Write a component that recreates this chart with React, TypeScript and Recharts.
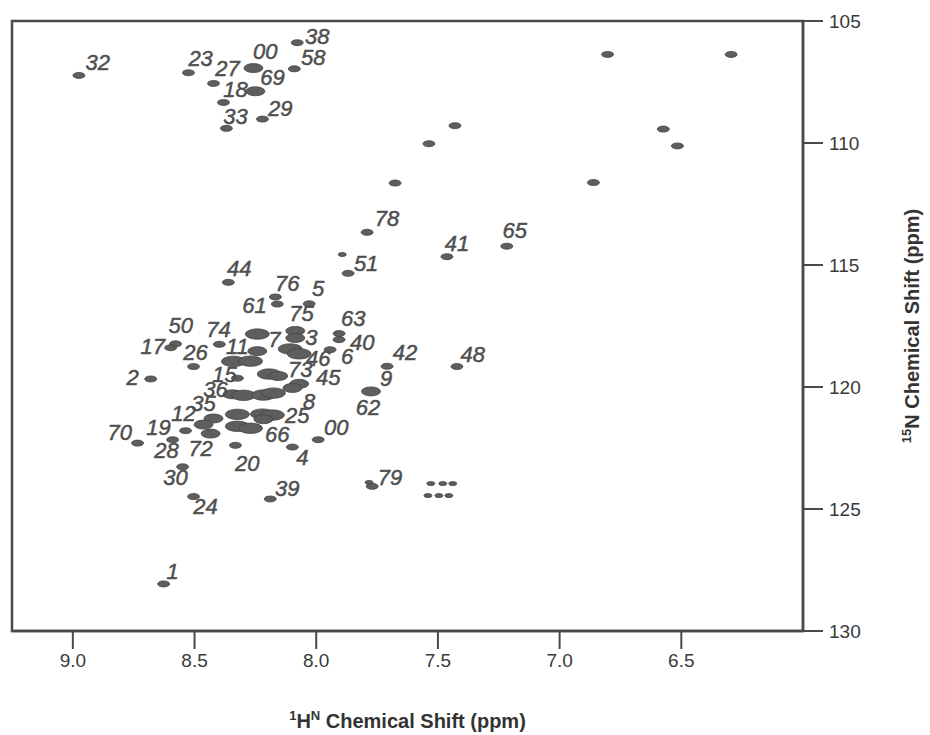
import { ScatterChart, Scatter, XAxis, YAxis, ReferenceArea } from 'recharts';

const xTicks = [9.0, 8.5, 8.0, 7.5, 7.0, 6.5];
const yTicks = [105, 110, 115, 120, 125, 130];

// cross peaks: 1H shift, 15N shift, rough intensity class (0 weak .. 3 strong)
const peakH = [
  8.975, 8.525, 8.422, 8.258, 8.078, 8.09, 8.381, 8.25, 8.369, 8.221,
  6.803, 6.295, 7.43, 7.537, 6.574, 6.516, 7.676, 6.861,
  7.791, 7.893, 7.869, 7.463, 7.217, 8.361, 8.168, 8.16, 8.029,
  7.906, 7.906, 7.943, 7.709, 7.422, 7.775, 7.992, 8.098,
  8.578, 8.598, 8.398, 8.504, 8.68, 8.242, 8.242, 8.086, 8.086, 8.107, 8.07,
  8.34, 8.27, 8.324, 8.193, 8.156, 8.07, 8.098, 8.344, 8.299, 8.217, 8.176,
  8.422, 8.324, 8.221, 8.18, 8.463, 8.434, 8.324, 8.27, 8.217,
  8.537, 8.734, 8.59, 8.332, 8.549, 8.504, 8.189, 7.77, 7.783,
  7.529, 7.48, 7.439, 7.541, 7.496, 7.455, 8.627,
];
const peakN = [
  107.23, 107.12, 107.56, 106.93, 105.89, 106.96, 108.34, 107.88, 109.4, 109.02,
  106.37, 106.37, 109.29, 110.03, 109.43, 110.12, 111.64, 111.62,
  113.66, 114.57, 115.34, 114.66, 114.23, 115.71, 116.31, 116.6, 116.59,
  117.81, 118.06, 118.47, 119.15, 119.16, 120.18, 122.16, 122.46,
  118.23, 118.39, 118.25, 119.16, 119.67, 117.83, 118.53, 117.7, 117.99, 118.44, 118.64,
  118.95, 118.94, 119.64, 119.47, 119.55, 119.87, 120.04, 120.3, 120.34, 120.33, 120.25,
  121.29, 121.12, 121.11, 121.15, 121.54, 121.91, 121.61, 121.69, 121.32,
  121.79, 122.3, 122.16, 122.39, 123.27, 124.49, 124.59, 124.07, 123.91,
  123.96, 123.96, 123.96, 124.45, 124.45, 124.45, 128.07,
];
const peakInt = [
  1, 1, 1, 2, 1, 1, 1, 2, 1, 1,
  1, 1, 1, 1, 1, 1, 1, 1,
  1, 0, 1, 1, 1, 1, 1, 1, 1,
  1, 1, 1, 1, 1, 2, 1, 1,
  1, 1, 1, 1, 1, 3, 2, 2, 2, 3, 3,
  3, 3, 1, 3, 2, 2, 2, 2, 3, 3, 3,
  2, 3, 3, 3, 2, 2, 3, 3, 2,
  1, 1, 1, 1, 1, 1, 1, 1, 0,
  0, 0, 0, 0, 0, 0, 1,
];

// residue assignments and where their labels sit
const labelText = [
  '32', '23', '27', '00', '38', '58', '18', '69', '33', '29',
  '78', '51', '41', '65', '44', '76', '5', '61', '75', '63',
  '50', '74', '7', '3', '40', '17', '11', '46', '6', '42',
  '26', '48', '2', '15', '73', '45', '9', '36', '8', '35',
  '62', '12', '25', '19', '70', '00', '66', '28', '72', '4',
  '20', '30', '79', '39', '24', '1',
];
const labelH = [
  8.898, 8.475, 8.365, 8.209, 7.996, 8.012, 8.332, 8.18, 8.332, 8.148,
  7.709, 7.795, 7.422, 7.184, 8.316, 8.119, 7.992, 8.254, 8.061, 7.848,
  8.557, 8.402, 8.172, 8.02, 7.811, 8.672, 8.324, 7.992, 7.873, 7.635,
  8.496, 7.357, 8.754, 8.377, 8.066, 7.951, 7.713, 8.414, 8.029, 8.463,
  7.787, 8.545, 8.078, 8.648, 8.807, 7.918, 8.16, 8.615, 8.475, 8.057,
  8.283, 8.578, 7.697, 8.119, 8.455, 8.59,
];
const labelN = [
  106.7, 106.54, 106.94, 106.23, 105.64, 106.5, 107.8, 107.3, 108.91, 108.57,
  113.08, 114.93, 114.12, 113.57, 115.14, 115.77, 115.97, 116.65, 117.0, 117.19,
  117.49, 117.64, 118.07, 117.98, 118.17, 118.36, 118.33, 118.84, 118.75, 118.57,
  118.59, 118.67, 119.63, 119.48, 119.3, 119.61, 119.64, 120.1, 120.6, 120.68,
  120.83, 121.09, 121.18, 121.64, 121.85, 121.66, 121.93, 122.61, 122.52, 122.9,
  123.12, 123.72, 123.69, 124.18, 124.9, 127.57,
];

const peaks = peakH.map((h, i) => ({ h, n: peakN[i], k: peakInt[i] }));
const labels = labelText.map((t, i) => ({ h: labelH[i], n: labelN[i], t }));

const FONT = "'Liberation Sans', Arial, sans-serif";
const RX = [4, 6, 9.5, 12];
const RY = [2, 3, 4.5, 5.2];

const PeakShape = (props: any) => {
  const { cx, cy, payload } = props;
  const k = payload.k;
  return <ellipse cx={cx} cy={cy} rx={RX[k]} ry={RY[k]} fill="#5e5e5e" stroke="#444" strokeWidth={0.8} />;
};

const LabelShape = (props: any) => {
  const { cx, cy, payload } = props;
  return (
    <text x={cx} y={cy} textAnchor="middle" dominantBaseline="central" fontFamily={FONT}
      fontStyle="italic" fontSize={22} fill="#4f4f4f" stroke="#4f4f4f" strokeWidth={0.5}>
      {payload.t}
    </text>
  );
};

const XLabel = (props: any) => {
  const vb = props.viewBox;
  const x = vb.x + vb.width / 2;
  const y = vb.y + 97;
  return (
    <text x={x} y={y} textAnchor="middle" fontFamily={FONT} fontWeight="bold" fontSize={20} fill="#333">
      <tspan fontSize={13} dy={-8}>1</tspan>
      <tspan dy={8}>H</tspan>
      <tspan fontSize={13} dy={-8}>N</tspan>
      <tspan dy={8}> Chemical Shift (ppm)</tspan>
    </text>
  );
};

const YLabel = (props: any) => {
  const vb = props.viewBox;
  const x = vb.x + 116;
  const y = vb.y + vb.height / 2;
  return (
    <text x={x} y={y} textAnchor="middle" transform={`rotate(-90, ${x}, ${y})`} fontFamily={FONT}
      fontWeight="bold" fontSize={20} fill="#333">
      <tspan fontSize={13} dy={-8}>15</tspan>
      <tspan dy={8}>N Chemical Shift (ppm)</tspan>
    </text>
  );
};

export default function App() {
  return (
    <div style={{ position: 'fixed', left: 0, top: 0, background: '#fff' }}>
      <ScatterChart width={930} height={735} margin={{ top: 21, right: 0, bottom: 0, left: 12 }}>
        <XAxis
          type="number"
          dataKey="h"
          domain={[6.0, 9.25]}
          reversed
          ticks={xTicks}
          tickFormatter={(v: number) => v.toFixed(1)}
          height={104}
          tickSize={18}
          tickMargin={5}
          axisLine={{ stroke: '#4a4a4a', strokeWidth: 2.5 }}
          tickLine={{ stroke: '#4a4a4a', strokeWidth: 2 }}
          tick={{ fill: '#3a3a3a', fontSize: 19, fontFamily: FONT }}
          allowDataOverflow
          label={<XLabel />}
        />
        <YAxis
          type="number"
          dataKey="n"
          orientation="right"
          domain={[105, 130]}
          reversed
          ticks={yTicks}
          width={127}
          tickSize={20}
          tickMargin={6}
          axisLine={{ stroke: '#4a4a4a', strokeWidth: 2.5 }}
          tickLine={{ stroke: '#4a4a4a', strokeWidth: 2 }}
          tick={{ fill: '#3a3a3a', fontSize: 19, fontFamily: FONT }}
          allowDataOverflow
          label={<YLabel />}
        />
        <ReferenceArea x1={9.25} x2={6.0} y1={105} y2={130} fill="none" stroke="#4a4a4a" strokeWidth={2.5} ifOverflow="visible" />
        <Scatter data={peaks} shape={PeakShape} isAnimationActive={false} />
        <Scatter data={labels} shape={LabelShape} isAnimationActive={false} />
      </ScatterChart>
    </div>
  );
}
